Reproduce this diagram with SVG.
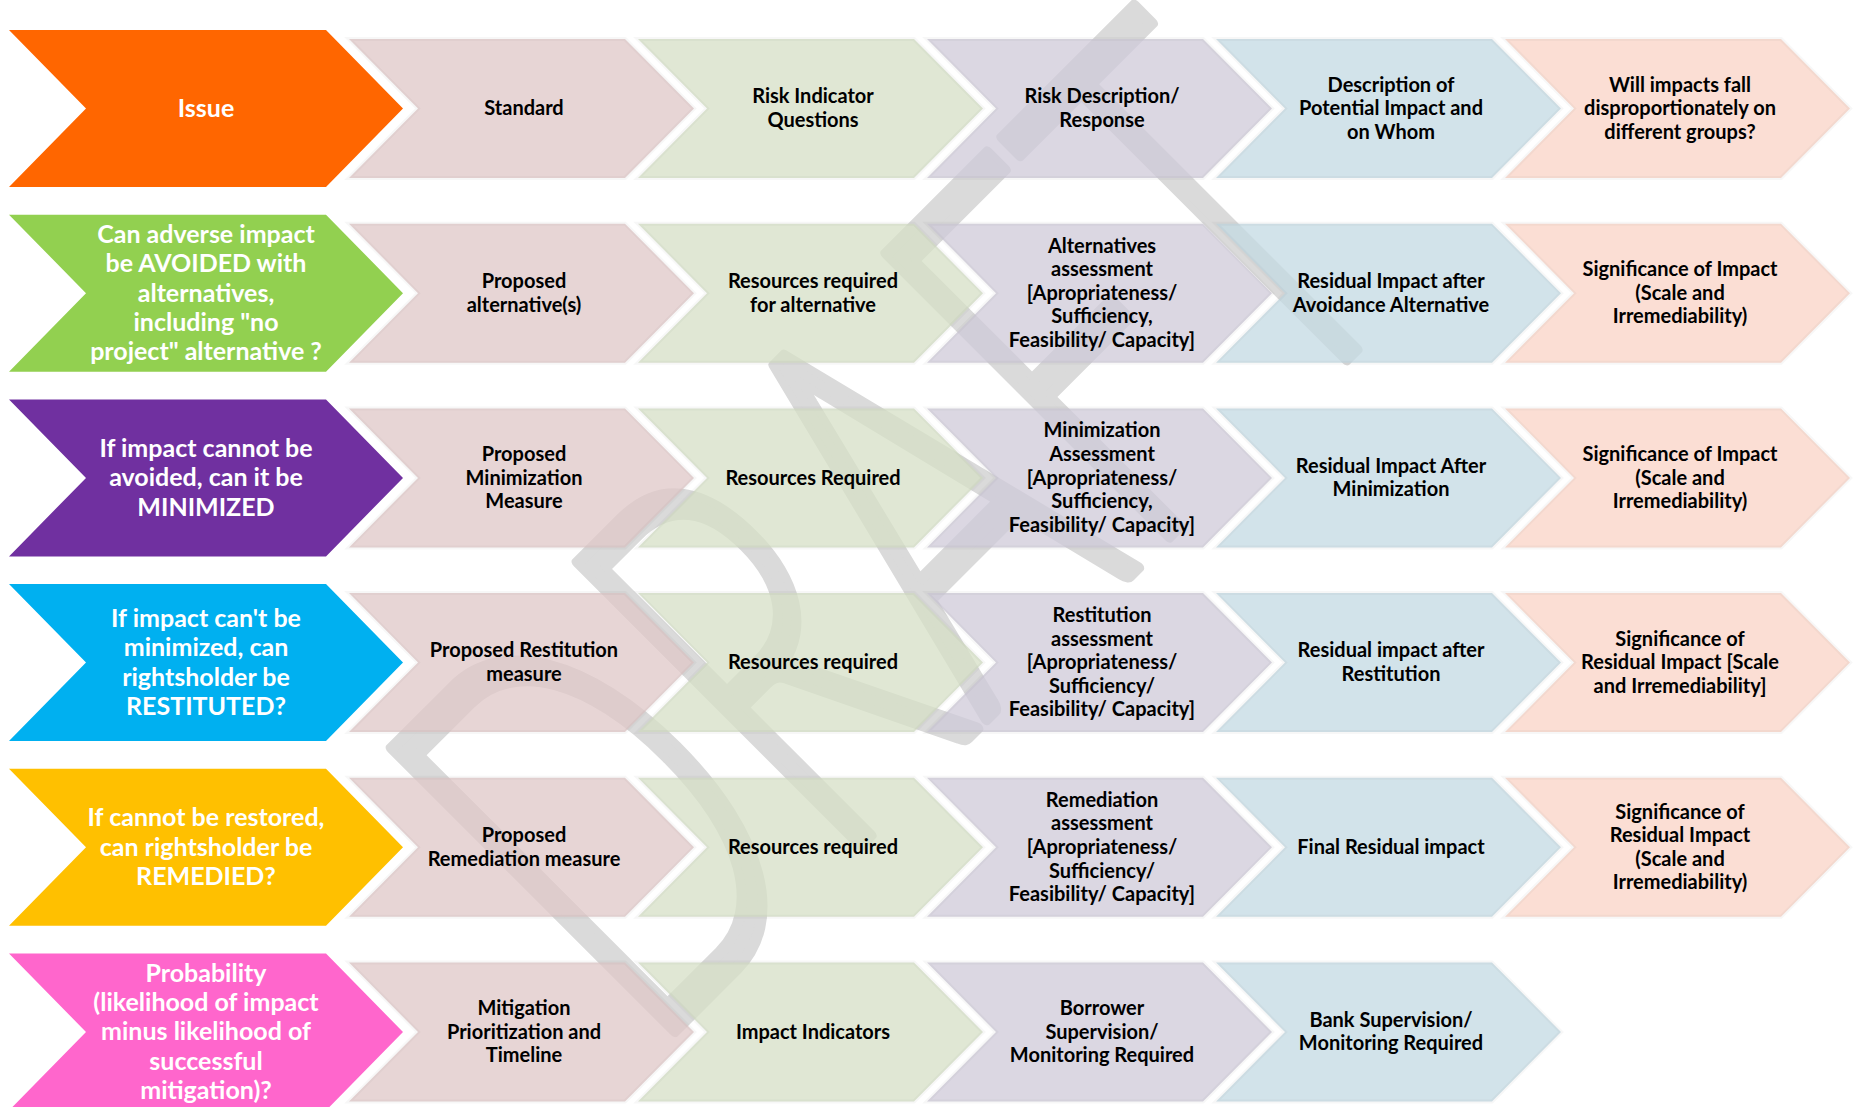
<svg xmlns="http://www.w3.org/2000/svg" xmlns:xlink="http://www.w3.org/1999/xlink" width="1856" height="1107" viewBox="0 0 1856 1107">
<defs>
<path id="dk" d="M9,-78.5 H326 L403,0 L326,78.5 H9 L86,0 Z"/>
<path id="lt" d="M0,-69.5 H276 L345,0 L276,69.5 H0 L69,0 Z"/>
</defs>
<style>
.wm{font-family:Lato,"Liberation Sans",sans-serif;font-weight:300;font-size:565px;fill:#DADADA;stroke:#DADADA;stroke-width:12;stroke-linejoin:round}
.sh{opacity:0.75;stroke:#000;stroke-opacity:0.04;stroke-width:4}
.c1{fill:#E0C8C8}.c2{fill:#D6E0C6}.c3{fill:#CFCAD9}.c4{fill:#C4DAE3}.c5{fill:#FAD4C6}
.d{font-family:Lato,"Liberation Sans",sans-serif;font-weight:bold;font-size:25px;fill:#FFFFFF;text-anchor:middle}
.t{font-family:Lato,"Liberation Sans",sans-serif;font-weight:bold;font-size:20px;fill:#000000;text-anchor:middle}
</style>
<rect width="1856" height="1107" fill="#FFFFFF"/>
<text class="wm" transform="rotate(-45)" x="-290" y="1206" textLength="1095" lengthAdjust="spacingAndGlyphs">DRAFT</text>

<g id="connectors"></g>

<!-- Row 0 -->
<g id="r0-issue"><use xlink:href="#dk" transform="translate(0,108.5)" fill="#FF6600"/><text class="d" x="206" y="116.8">Issue</text></g>
<g id="r0-c1"><use xlink:href="#lt" class="sh c1" transform="translate(349,108.5)"/><text class="t" x="524" y="115.1">Standard</text></g>
<g id="r0-c2"><use xlink:href="#lt" class="sh c2" transform="translate(638,108.5)"/><text class="t" x="813" y="103.3">Risk Indicator</text><text class="t" x="813" y="126.9">Questions</text></g>
<g id="r0-c3"><use xlink:href="#lt" class="sh c3" transform="translate(927,108.5)"/><text class="t" x="1102" y="103.3">Risk Description/</text><text class="t" x="1102" y="126.9">Response</text></g>
<g id="r0-c4"><use xlink:href="#lt" class="sh c4" transform="translate(1216,108.5)"/><text class="t" x="1391" y="91.5">Description of</text><text class="t" x="1391" y="115.1">Potential Impact and</text><text class="t" x="1391" y="138.7">on Whom</text></g>
<g id="r0-c5"><use xlink:href="#lt" class="sh c5" transform="translate(1505,108.5)"/><text class="t" x="1680" y="91.5">Will impacts fall</text><text class="t" x="1680" y="115.1">disproportionately on</text><text class="t" x="1680" y="138.7">different groups?</text></g>

<!-- Row 1 -->
<g id="r1-avoid"><use xlink:href="#dk" transform="translate(0,293.2)" fill="#92D050"/><text class="d" x="206" y="242.9">Can adverse impact</text><text class="d" x="206" y="272.2">be AVOIDED with</text><text class="d" x="206" y="301.5">alternatives,</text><text class="d" x="206" y="330.8">including "no</text><text class="d" x="206" y="360.1">project" alternative ?</text></g>
<g id="r1-c1"><use xlink:href="#lt" class="sh c1" transform="translate(349,293.2)"/><text class="t" x="524" y="288.0">Proposed</text><text class="t" x="524" y="311.6">alternative(s)</text></g>
<g id="r1-c2"><use xlink:href="#lt" class="sh c2" transform="translate(638,293.2)"/><text class="t" x="813" y="288.0">Resources required</text><text class="t" x="813" y="311.6">for alternative</text></g>
<g id="r1-c3"><use xlink:href="#lt" class="sh c3" transform="translate(927,293.2)"/><text class="t" x="1102" y="252.6">Alternatives</text><text class="t" x="1102" y="276.2">assessment</text><text class="t" x="1102" y="299.8">[Apropriateness/</text><text class="t" x="1102" y="323.4">Sufficiency,</text><text class="t" x="1102" y="347.0">Feasibility/ Capacity]</text></g>
<g id="r1-c4"><use xlink:href="#lt" class="sh c4" transform="translate(1216,293.2)"/><text class="t" x="1391" y="288.0">Residual Impact after</text><text class="t" x="1391" y="311.6">Avoidance Alternative</text></g>
<g id="r1-c5"><use xlink:href="#lt" class="sh c5" transform="translate(1505,293.2)"/><text class="t" x="1680" y="276.2">Significance of Impact</text><text class="t" x="1680" y="299.8">(Scale and</text><text class="t" x="1680" y="323.4">Irremediability)</text></g>

<!-- Row 2 -->
<g id="r2-minimize"><use xlink:href="#dk" transform="translate(0,477.9)" fill="#7030A0"/><text class="d" x="206" y="456.9">If impact cannot be</text><text class="d" x="206" y="486.2">avoided, can it be</text><text class="d" x="206" y="515.5">MINIMIZED</text></g>
<g id="r2-c1"><use xlink:href="#lt" class="sh c1" transform="translate(349,477.9)"/><text class="t" x="524" y="460.9">Proposed</text><text class="t" x="524" y="484.5">Minimization</text><text class="t" x="524" y="508.1">Measure</text></g>
<g id="r2-c2"><use xlink:href="#lt" class="sh c2" transform="translate(638,477.9)"/><text class="t" x="813" y="484.5">Resources Required</text></g>
<g id="r2-c3"><use xlink:href="#lt" class="sh c3" transform="translate(927,477.9)"/><text class="t" x="1102" y="437.3">Minimization</text><text class="t" x="1102" y="460.9">Assessment</text><text class="t" x="1102" y="484.5">[Apropriateness/</text><text class="t" x="1102" y="508.1">Sufficiency,</text><text class="t" x="1102" y="531.7">Feasibility/ Capacity]</text></g>
<g id="r2-c4"><use xlink:href="#lt" class="sh c4" transform="translate(1216,477.9)"/><text class="t" x="1391" y="472.7">Residual Impact After</text><text class="t" x="1391" y="496.3">Minimization</text></g>
<g id="r2-c5"><use xlink:href="#lt" class="sh c5" transform="translate(1505,477.9)"/><text class="t" x="1680" y="460.9">Significance of Impact</text><text class="t" x="1680" y="484.5">(Scale and</text><text class="t" x="1680" y="508.1">Irremediability)</text></g>

<!-- Row 3 -->
<g id="r3-restitute"><use xlink:href="#dk" transform="translate(0,662.6)" fill="#00B0F0"/><text class="d" x="206" y="627.0">If impact can't be</text><text class="d" x="206" y="656.3">minimized, can</text><text class="d" x="206" y="685.6">rightsholder be</text><text class="d" x="206" y="714.9">RESTITUTED?</text></g>
<g id="r3-c1"><use xlink:href="#lt" class="sh c1" transform="translate(349,662.6)"/><text class="t" x="524" y="657.4">Proposed Restitution</text><text class="t" x="524" y="681.0">measure</text></g>
<g id="r3-c2"><use xlink:href="#lt" class="sh c2" transform="translate(638,662.6)"/><text class="t" x="813" y="669.2">Resources required</text></g>
<g id="r3-c3"><use xlink:href="#lt" class="sh c3" transform="translate(927,662.6)"/><text class="t" x="1102" y="622.0">Restitution</text><text class="t" x="1102" y="645.6">assessment</text><text class="t" x="1102" y="669.2">[Apropriateness/</text><text class="t" x="1102" y="692.8">Sufficiency/</text><text class="t" x="1102" y="716.4">Feasibility/ Capacity]</text></g>
<g id="r3-c4"><use xlink:href="#lt" class="sh c4" transform="translate(1216,662.6)"/><text class="t" x="1391" y="657.4">Residual impact after</text><text class="t" x="1391" y="681.0">Restitution</text></g>
<g id="r3-c5"><use xlink:href="#lt" class="sh c5" transform="translate(1505,662.6)"/><text class="t" x="1680" y="645.6">Significance of</text><text class="t" x="1680" y="669.2">Residual Impact [Scale</text><text class="t" x="1680" y="692.8">and Irremediability]</text></g>

<!-- Row 4 -->
<g id="r4-remedy"><use xlink:href="#dk" transform="translate(0,847.3)" fill="#FFC000"/><text class="d" x="206" y="826.3">If cannot be restored,</text><text class="d" x="206" y="855.6">can rightsholder be</text><text class="d" x="206" y="884.9">REMEDIED?</text></g>
<g id="r4-c1"><use xlink:href="#lt" class="sh c1" transform="translate(349,847.3)"/><text class="t" x="524" y="842.1">Proposed</text><text class="t" x="524" y="865.7">Remediation measure</text></g>
<g id="r4-c2"><use xlink:href="#lt" class="sh c2" transform="translate(638,847.3)"/><text class="t" x="813" y="853.9">Resources required</text></g>
<g id="r4-c3"><use xlink:href="#lt" class="sh c3" transform="translate(927,847.3)"/><text class="t" x="1102" y="806.7">Remediation</text><text class="t" x="1102" y="830.3">assessment</text><text class="t" x="1102" y="853.9">[Apropriateness/</text><text class="t" x="1102" y="877.5">Sufficiency/</text><text class="t" x="1102" y="901.1">Feasibility/ Capacity]</text></g>
<g id="r4-c4"><use xlink:href="#lt" class="sh c4" transform="translate(1216,847.3)"/><text class="t" x="1391" y="853.9">Final Residual impact</text></g>
<g id="r4-c5"><use xlink:href="#lt" class="sh c5" transform="translate(1505,847.3)"/><text class="t" x="1680" y="818.5">Significance of</text><text class="t" x="1680" y="842.1">Residual Impact</text><text class="t" x="1680" y="865.7">(Scale and</text><text class="t" x="1680" y="889.3">Irremediability)</text></g>

<!-- Row 5 -->
<g id="r5-probability"><use xlink:href="#dk" transform="translate(0,1032)" fill="#FF66CC"/><text class="d" x="206" y="981.7">Probability</text><text class="d" x="206" y="1011.0">(likelihood of impact</text><text class="d" x="206" y="1040.3">minus likelihood of</text><text class="d" x="206" y="1069.6">successful</text><text class="d" x="206" y="1098.9">mitigation)?</text></g>
<g id="r5-c1"><use xlink:href="#lt" class="sh c1" transform="translate(349,1032)"/><text class="t" x="524" y="1015.0">Mitigation</text><text class="t" x="524" y="1038.6">Prioritization and</text><text class="t" x="524" y="1062.2">Timeline</text></g>
<g id="r5-c2"><use xlink:href="#lt" class="sh c2" transform="translate(638,1032)"/><text class="t" x="813" y="1038.6">Impact Indicators</text></g>
<g id="r5-c3"><use xlink:href="#lt" class="sh c3" transform="translate(927,1032)"/><text class="t" x="1102" y="1015.0">Borrower</text><text class="t" x="1102" y="1038.6">Supervision/</text><text class="t" x="1102" y="1062.2">Monitoring Required</text></g>
<g id="r5-c4"><use xlink:href="#lt" class="sh c4" transform="translate(1216,1032)"/><text class="t" x="1391" y="1026.8">Bank Supervision/</text><text class="t" x="1391" y="1050.4">Monitoring Required</text></g>
</svg>
